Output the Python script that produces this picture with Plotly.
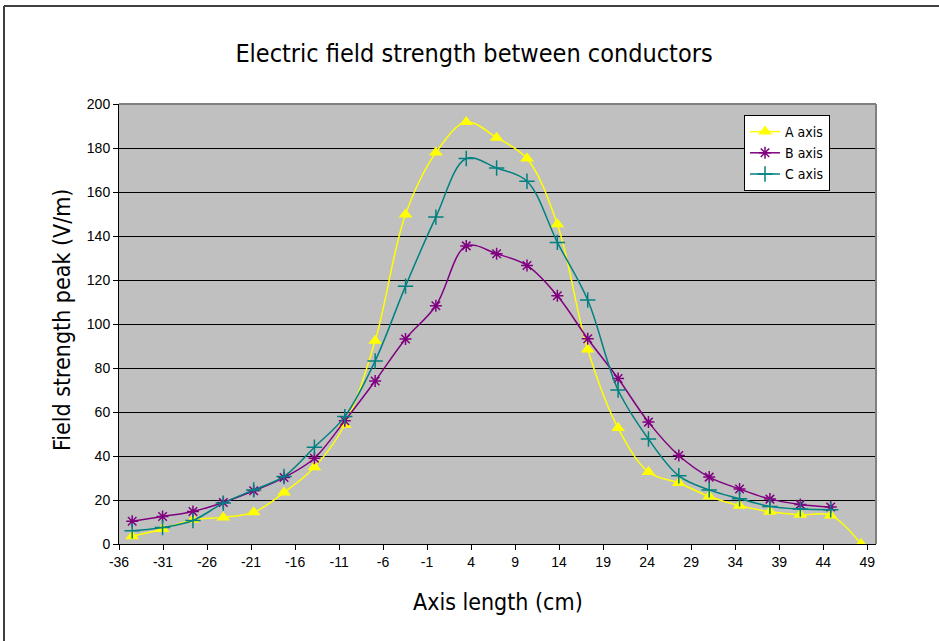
import plotly.graph_objects as go

# ---- data ----
x_pos = [-34.5, -31.05, -27.6, -24.15, -20.7, -17.25, -13.8, -10.35, -6.9, -3.45, 0,
         3.45, 6.9, 10.35, 13.8, 17.25, 20.7, 24.15, 27.6, 31.05, 34.5, 37.95, 41.4, 44.85, 48.3]
a_axis = [3.5, 6.8, 11.0, 12.1, 14.4, 23.4, 34.9, 54.2, 92.4, 149.8, 177.9, 191.8, 184.7,
          175.2, 145.3, 88.4, 52.7, 32.7, 27.7, 21.6, 17.4, 14.7, 13.3, 13.0, 0.0]
b_axis = [10.3, 12.5, 14.8, 18.9, 24.2, 30.2, 39.0, 56.0, 74.1, 93.2, 108.3, 135.5, 131.9,
          126.6, 112.8, 93.3, 75.2, 55.4, 40.2, 30.4, 25.0, 20.4, 18.0, 16.8]
c_axis = [6.0, 7.5, 10.7, 18.6, 24.6, 30.7, 44.0, 57.9, 83.2, 117.2, 148.6, 175.2, 170.9,
          164.9, 137.1, 110.9, 70.0, 47.7, 31.0, 24.6, 20.6, 17.1, 15.9, 15.6]
x_tick_vals = [-36, -31, -26, -21, -16, -11, -6, -1, 4, 9, 14, 19, 24, 29, 34, 39, 44, 49]
x_tick_text = ["-36", "-31", "-26", "-21", "-16", "-11", "-6", "-1", "4", "9", "14",
               "19", "24", "29", "34", "39", "44", "49"]
series_names = ["A axis", "B axis", "C axis"]
title_text = "Electric field strength between conductors"
x_title = "Axis length (cm)"
y_title = "Field strength peak (V/m)"

W, H = 939, 641
L, R, T, B = 119, 63, 104, 97
PW, PH = W - L - R, H - T - B

NARROW = "Liberation Sans Narrow, Arial Narrow, DejaVu Sans Condensed, Liberation Sans, sans-serif"
ARIAL = "Liberation Sans, Arial, sans-serif"

fig = go.Figure()
fig.add_trace(go.Scatter(x=x_pos, y=a_axis, name=series_names[0], mode="lines+markers",
                         line=dict(color="#FFFF00", width=1.5, shape="spline"),
                         marker=dict(symbol="triangle-up", size=12, color="#FFFF00")))
fig.add_trace(go.Scatter(x=x_pos[:len(b_axis)], y=b_axis, name=series_names[1], mode="lines+markers",
                         line=dict(color="#800080", width=1.5, shape="spline"),
                         marker=dict(symbol="asterisk-open", size=10,
                                     line=dict(color="#800080", width=1.5))))
fig.add_trace(go.Scatter(x=x_pos[:len(c_axis)], y=c_axis, name=series_names[2], mode="lines+markers",
                         line=dict(color="#008080", width=1.5, shape="spline"),
                         marker=dict(symbol="cross-thin-open", size=11,
                                     line=dict(color="#008080", width=1.5))))


def px_x(p):
    return (p - L) / PW


def px_y(p):
    return (H - B - p) / PH


fig.update_layout(
    width=W, height=H,
    margin=dict(l=L, r=R, t=T, b=B),
    paper_bgcolor="white",
    plot_bgcolor="#C0C0C0",
    title=dict(text=title_text, x=474 / W, xref="container", xanchor="center",
               y=1 - 53 / H, yref="container", yanchor="middle",
               font=dict(family=NARROW, size=25, color="black")),
    xaxis=dict(range=[-36, 50], tickvals=x_tick_vals, ticktext=x_tick_text,
               showgrid=False, zeroline=False,
               showline=True, linecolor="black", linewidth=1,
               ticks="outside", ticklen=5, tickcolor="black",
               tickfont=dict(family=ARIAL, size=14, color="black")),
    yaxis=dict(range=[0, 200], tick0=0, dtick=20, showgrid=True, gridcolor="black", gridwidth=1,
               zeroline=False, showline=True, linecolor="black", linewidth=1,
               ticks="outside", ticklen=5, tickcolor="black",
               tickfont=dict(family=ARIAL, size=14, color="black")),
    legend=dict(x=px_x(744), y=px_y(115), xanchor="left", yanchor="top",
                bgcolor="white", bordercolor="black", borderwidth=1,
                font=dict(family=NARROW, size=14, color="black"),
                tracegroupgap=0, itemsizing="trace"),
    showlegend=True,
)

fig.add_annotation(text=x_title, xref="paper", yref="paper", x=0.5, y=px_y(602),
                   xanchor="center", yanchor="middle", showarrow=False,
                   font=dict(family=NARROW, size=23, color="black"))
fig.add_annotation(text=y_title, xref="paper", yref="paper", x=px_x(62), y=px_y(320),
                   xanchor="center", yanchor="middle", showarrow=False, textangle=-90,
                   font=dict(family=NARROW, size=23, color="black"))

# plot area border (top/right in gray)
fig.add_shape(type="line", xref="paper", yref="paper", x0=0, x1=1, y0=1, y1=1,
              line=dict(color="#808080", width=2), layer="above")
fig.add_shape(type="line", xref="paper", yref="paper", x0=1, x1=1, y0=0, y1=1,
              line=dict(color="#808080", width=2), layer="above")
# outer chart border (top/left visible)
fig.add_shape(type="line", xref="paper", yref="paper", x0=px_x(4), x1=px_x(W + 5),
              y0=px_y(6), y1=px_y(6), line=dict(color="#404040", width=2))
fig.add_shape(type="line", xref="paper", yref="paper", x0=px_x(4), x1=px_x(4),
              y0=px_y(6), y1=px_y(H + 5), line=dict(color="#404040", width=2))

fig.write_html("out.html")
